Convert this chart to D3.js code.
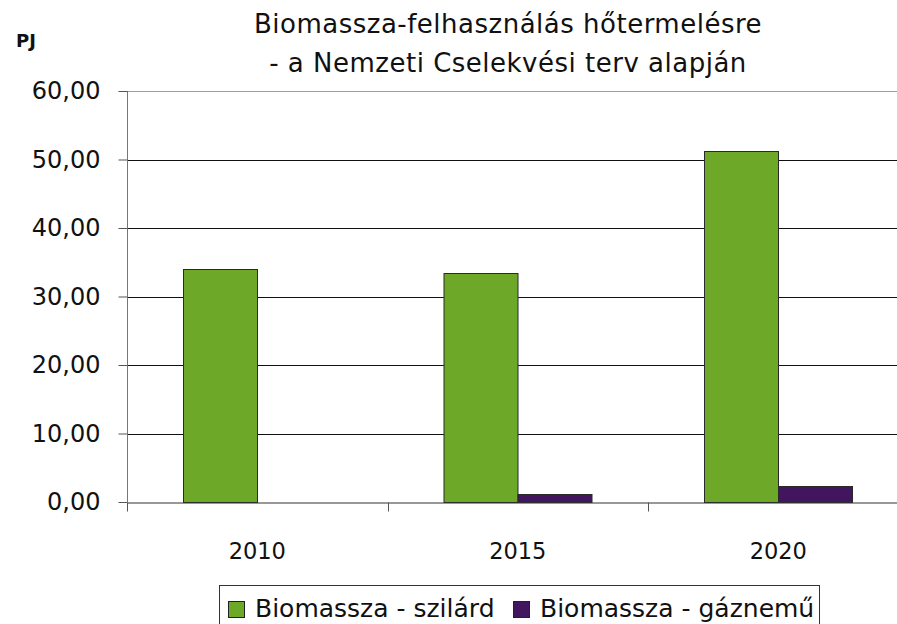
<!DOCTYPE html>
<html>
<head>
<meta charset="utf-8">
<script src="https://cdn.jsdelivr.net/npm/d3@7"></script>
<style>
  body { margin: 0; background: #fff; }
  svg { display: block; }
  text { font-family: "DejaVu Sans", sans-serif; fill: #111; }
</style>
</head>
<body>
<svg id="chart" width="897" height="624"></svg>
<script>
// data
const years = ['2010', '2015', '2020'];
const seriesNames = ['Biomassza - szilárd', 'Biomassza - gáznemű'];
const szilard = [34.0, 33.5, 51.2];
const gaznemu = [0, 1.2, 2.4];
const yTicks = [0, 10, 20, 30, 40, 50, 60];
const titleLines = ['Biomassza-felhasználás hőtermelésre', '- a Nemzeti Cselekvési terv alapján'];

const colors = ['#6ea828', '#42165f'];
const rows = years.map((y, i) => ({ year: y, values: [szilard[i], gaznemu[i]] }));

const svg = d3.select('#chart');
const plotLeft = 127, plotTop = 91, plotBottom = 502;
const step = 260.5;

const x = d3.scaleBand().domain(years).range([plotLeft, plotLeft + step * years.length]).padding(0);
const x1 = d3.scaleBand().domain(d3.range(seriesNames.length)).range([0, x.bandwidth()])
  .paddingInner(0).paddingOuter(0.76);
const y = d3.scaleLinear().domain([0, 60]).range([plotBottom, plotTop]);

// gridlines
svg.append('g')
  .selectAll('line')
  .data(yTicks.filter(d => d > 0))
  .join('line')
  .attr('x1', plotLeft).attr('x2', 897)
  .attr('y1', d => Math.round(y(d)) + 0.5).attr('y2', d => Math.round(y(d)) + 0.5)
  .attr('stroke', d => d === 60 ? '#a0a0a0' : '#111')
  .attr('stroke-width', 1);

// bars
svg.append('g')
  .selectAll('g')
  .data(rows)
  .join('g')
  .attr('transform', d => `translate(${x(d.year)},0)`)
  .selectAll('rect')
  .data(d => d.values.map((v, i) => ({ v, i })).filter(e => e.v > 0))
  .join('rect')
  .attr('x', d => Math.round(x1(d.i)) + 0.5)
  .attr('width', x1.bandwidth())
  .attr('y', d => Math.round(y(d.v)) + 0.5)
  .attr('height', d => Math.round(y(0)) - Math.round(y(d.v)))
  .attr('fill', d => colors[d.i])
  .attr('stroke', '#2a2a2a')
  .attr('stroke-width', 1);

// y axis
const yAxis = svg.append('g')
  .attr('transform', `translate(${plotLeft + 0.5},0)`)
  .call(d3.axisLeft(y).tickValues(yTicks).tickSize(9).tickPadding(18)
    .tickFormat(d => d3.format('.2f')(d).replace('.', ',')));
yAxis.select('.domain').attr('stroke', '#777').attr('d', `M0,${plotTop}V${plotBottom}`);
yAxis.selectAll('.tick line').attr('stroke', '#555');
yAxis.selectAll('.tick text').style('font-size', '24px').attr('fill', '#111')
  .attr('font-family', 'DejaVu Sans');

// x axis
const xAxis = svg.append('g')
  .attr('transform', `translate(0,${Math.round(y(0)) + 0.5})`)
  .call(d3.axisBottom(x).tickSize(0).tickPadding(41));
xAxis.select('.domain').attr('stroke', '#333');
xAxis.selectAll('.tick text').style('font-size', '22.5px').attr('fill', '#111')
  .attr('font-family', 'DejaVu Sans');
xAxis.selectAll('.sep')
  .data(d3.range(years.length + 1))
  .join('line')
  .attr('class', 'sep')
  .attr('x1', i => Math.round(plotLeft + step * i) + 0.5)
  .attr('x2', i => Math.round(plotLeft + step * i) + 0.5)
  .attr('y1', 0).attr('y2', 9)
  .attr('stroke', '#555');

// title
svg.append('g')
  .selectAll('text')
  .data(titleLines)
  .join('text')
  .attr('x', 508).attr('y', (d, i) => 33 + i * 39)
  .attr('text-anchor', 'middle')
  .style('font-size', '26px')
  .style('letter-spacing', '0.5px')
  .text(d => d);

svg.append('text')
  .attr('x', 16).attr('y', 47)
  .style('font-size', '18px').style('font-weight', 'bold')
  .text('PJ');

// legend
const legend = svg.append('g');
legend.append('rect')
  .attr('x', 219.5).attr('y', 585.5).attr('width', 600).attr('height', 60)
  .attr('fill', 'none').attr('stroke', '#333');
const legendX = [228, 513];
const items = legend.selectAll('g.item')
  .data(seriesNames)
  .join('g')
  .attr('class', 'item')
  .attr('transform', (d, i) => `translate(${legendX[i]},601)`);
items.append('rect')
  .attr('x', 0.5).attr('y', 0.5).attr('width', 16).attr('height', 16)
  .attr('fill', (d, i) => colors[i]).attr('stroke', '#222');
items.append('text')
  .attr('x', 27).attr('y', 16)
  .style('font-size', '25px')
  .text(d => d);
</script>
</body>
</html>
